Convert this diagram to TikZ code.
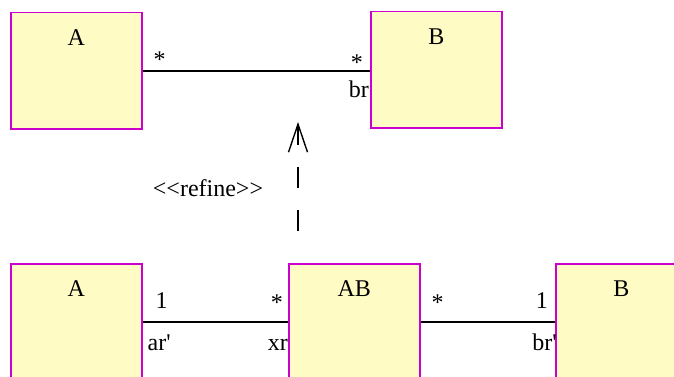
\documentclass[tikz,border=0pt]{standalone}
\usepackage{fontspec}
\setmainfont{Liberation Serif}
\usetikzlibrary{positioning,arrows.meta}
\definecolor{classfill}{RGB}{255,251,196}
\definecolor{classline}{RGB}{204,0,204}
\begin{document}
\begin{tikzpicture}[x=1pt,y=-1pt,
  classbox/.style={draw=classline,fill=classfill,line width=1.5pt,
    minimum width=131pt,minimum height=116pt,inner sep=0pt,anchor=north west},
  cname/.style={font=\fontsize{24}{28}\selectfont,inner sep=0pt},
  role/.style={font=\fontsize{24}{28}\selectfont,inner sep=0pt},
  assoc/.style={line width=1.6pt}]
\useasboundingbox (0,0) rectangle (674,377);
\clip (0,0) rectangle (674,377);
% upper model
\node[classbox] (topA) at (10,12) {};
\node[classbox] (topB) at (370,11) {};
\node[cname] (topAname) at ([yshift=-26pt]topA.north) {A};
\node[cname] (topBname) at ([yshift=-26pt]topB.north) {B};
\draw[assoc] (topA.east) -- (topA.east -| topB.west) coordinate (topBend);
\node[role,anchor=base west] (topAmul) at ([xshift=11pt,yshift=3pt]topA.east) {*};
\node[role,anchor=base east] (topBmul) at ([xshift=-7pt,yshift=0pt]topBend) {*};
\node[role,anchor=base east] (topBrole) at ([xshift=-1pt,yshift=-27pt]topBend) {br};
% refinement
\coordinate (refbot) at (298,253);
\coordinate (reftip) at (298,122);
\draw[line width=1.4pt,dash pattern=on 21pt off 22pt,dash phase=21pt,
  -{Straight Barb[length=28pt,width=19pt,line width=1.4pt]}] (refbot) -- (reftip);
\node[role] (reflbl) at (208,188) {<\kern0pt<refine>\kern0pt>};
% lower model
\node[classbox] (lowA) at (10,263) {};
\node[classbox] (lowAB) at (288,263) {};
\node[classbox] (lowB) at (555,263) {};
\node[cname] (lowAname) at ([yshift=-26pt]lowA.north) {A};
\node[cname] (lowABname) at ([yshift=-26pt]lowAB.north) {AB};
\node[cname] (lowBname) at ([yshift=-26pt]lowB.north) {B};
\draw[assoc] (lowA.east) -- (lowAB.west);
\draw[assoc] (lowAB.east) -- (lowB.west);
\node[role,anchor=base west] (lowAmul) at ([xshift=13pt,yshift=13pt]lowA.east) {1};
\node[role,anchor=base west] (lowArole) at ([xshift=5pt,yshift=-29pt]lowA.east) {ar\textquotesingle};
\node[role,anchor=base east] (lowABmulA) at ([xshift=-5pt,yshift=11pt]lowAB.west) {*};
\node[role,anchor=base east] (lowABrole) at ([xshift=0pt,yshift=-29pt]lowAB.west) {xr};
\node[role,anchor=base west] (lowABmulB) at ([xshift=11pt,yshift=11pt]lowAB.east) {*};
\node[role,anchor=base east] (lowBmul) at ([xshift=-7pt,yshift=13pt]lowB.west) {1};
\node[role,anchor=base east] (lowBrole) at ([xshift=2pt,yshift=-29pt]lowB.west) {br\textquotesingle};
\end{tikzpicture}
\end{document}
